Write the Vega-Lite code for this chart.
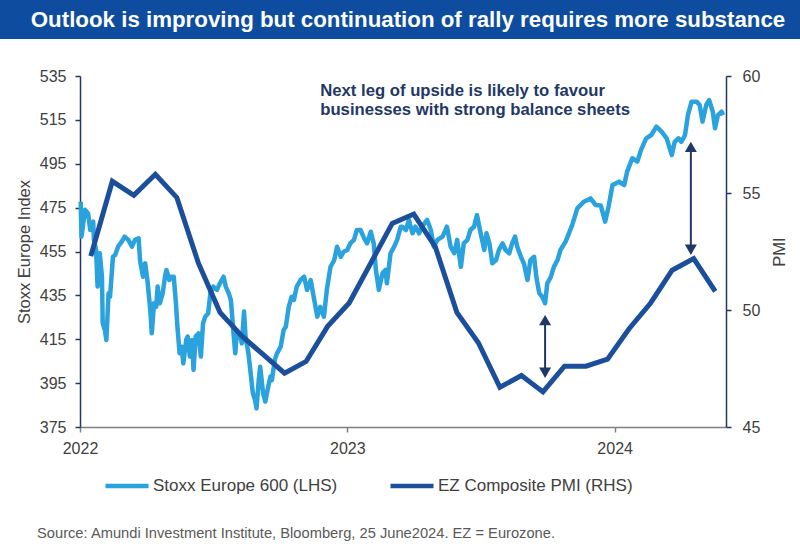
{
  "$schema": "https://vega.github.io/schema/vega-lite/v6.json",
  "padding": 0,
  "background": "white",
  "config": {"font": "Liberation Sans", "view": {"stroke": null}},
  "datasets": {
    "stoxx": [
      {"date": "2022-01-02", "index": 477.7}, {"date": "2022-01-03", "index": 461.8}, {"date": "2022-01-08", "index": 474}, {"date": "2022-01-12", "index": 472.4},
      {"date": "2022-01-15", "index": 464.8}, {"date": "2022-01-19", "index": 468.6}, {"date": "2022-01-20", "index": 460.3}, {"date": "2022-01-23", "index": 455.7},
      {"date": "2022-01-25", "index": 439}, {"date": "2022-01-28", "index": 454.2}, {"date": "2022-01-31", "index": 443.5}, {"date": "2022-02-01", "index": 422.3},
      {"date": "2022-02-04", "index": 419.2}, {"date": "2022-02-06", "index": 414.7}, {"date": "2022-02-09", "index": 436}, {"date": "2022-02-11", "index": 434.4},
      {"date": "2022-02-15", "index": 452.6}, {"date": "2022-02-18", "index": 453.4}, {"date": "2022-02-22", "index": 457.2}, {"date": "2022-02-27", "index": 459.5},
      {"date": "2022-03-03", "index": 461.8}, {"date": "2022-03-08", "index": 460.3}, {"date": "2022-03-13", "index": 457.2}, {"date": "2022-03-17", "index": 460.3},
      {"date": "2022-03-22", "index": 461}, {"date": "2022-03-24", "index": 451}, {"date": "2022-03-28", "index": 443.5}, {"date": "2022-03-31", "index": 449.6},
      {"date": "2022-04-03", "index": 442}, {"date": "2022-04-07", "index": 428.3}, {"date": "2022-04-09", "index": 417.7}, {"date": "2022-04-12", "index": 431.4},
      {"date": "2022-04-15", "index": 429.8}, {"date": "2022-04-17", "index": 439}, {"date": "2022-04-20", "index": 431.4}, {"date": "2022-04-24", "index": 436},
      {"date": "2022-04-27", "index": 443.5}, {"date": "2022-04-29", "index": 446.6}, {"date": "2022-05-03", "index": 442}, {"date": "2022-05-05", "index": 443.5},
      {"date": "2022-05-09", "index": 443.5}, {"date": "2022-05-12", "index": 431.4}, {"date": "2022-05-14", "index": 420.7}, {"date": "2022-05-17", "index": 408.6},
      {"date": "2022-05-20", "index": 411.6}, {"date": "2022-05-22", "index": 404}, {"date": "2022-05-26", "index": 414.7}, {"date": "2022-05-28", "index": 416.2},
      {"date": "2022-05-31", "index": 407.1}, {"date": "2022-06-03", "index": 414.7}, {"date": "2022-06-05", "index": 401}, {"date": "2022-06-08", "index": 416.2},
      {"date": "2022-06-12", "index": 417.7}, {"date": "2022-06-15", "index": 407.1}, {"date": "2022-06-18", "index": 422.3}, {"date": "2022-06-21", "index": 425.3},
      {"date": "2022-06-25", "index": 426.8}, {"date": "2022-06-28", "index": 436}, {"date": "2022-07-02", "index": 439}, {"date": "2022-07-07", "index": 437.5},
      {"date": "2022-07-11", "index": 440.5}, {"date": "2022-07-16", "index": 443.5}, {"date": "2022-07-19", "index": 439}, {"date": "2022-07-23", "index": 436},
      {"date": "2022-07-26", "index": 432.9}, {"date": "2022-07-30", "index": 416.2}, {"date": "2022-08-01", "index": 408.6}, {"date": "2022-08-03", "index": 417.7},
      {"date": "2022-08-08", "index": 416.2}, {"date": "2022-08-10", "index": 413.1}, {"date": "2022-08-13", "index": 427.6}, {"date": "2022-08-15", "index": 416.2},
      {"date": "2022-08-19", "index": 408.6}, {"date": "2022-08-22", "index": 399.5}, {"date": "2022-08-25", "index": 390.4}, {"date": "2022-08-28", "index": 387.3},
      {"date": "2022-08-30", "index": 383.5}, {"date": "2022-09-02", "index": 396.4}, {"date": "2022-09-04", "index": 402.5}, {"date": "2022-09-08", "index": 390.4},
      {"date": "2022-09-11", "index": 386.6}, {"date": "2022-09-15", "index": 393.4}, {"date": "2022-09-18", "index": 398}, {"date": "2022-09-20", "index": 396.4},
      {"date": "2022-09-24", "index": 405.6}, {"date": "2022-09-27", "index": 408.6}, {"date": "2022-10-02", "index": 411.6}, {"date": "2022-10-06", "index": 419.2},
      {"date": "2022-10-09", "index": 420.7}, {"date": "2022-10-13", "index": 429.8}, {"date": "2022-10-17", "index": 434.4}, {"date": "2022-10-20", "index": 432.9},
      {"date": "2022-10-24", "index": 439}, {"date": "2022-10-29", "index": 442}, {"date": "2022-11-03", "index": 443.5}, {"date": "2022-11-07", "index": 437.5},
      {"date": "2022-11-12", "index": 442}, {"date": "2022-11-16", "index": 434.4}, {"date": "2022-11-21", "index": 425.3}, {"date": "2022-11-25", "index": 429.8},
      {"date": "2022-11-30", "index": 425.3}, {"date": "2022-12-04", "index": 437.5}, {"date": "2022-12-09", "index": 448}, {"date": "2022-12-14", "index": 451},
      {"date": "2022-12-18", "index": 457.2}, {"date": "2022-12-23", "index": 452.6}, {"date": "2022-12-27", "index": 454.9}, {"date": "2023-01-01", "index": 455.7},
      {"date": "2023-01-05", "index": 458.7}, {"date": "2023-01-10", "index": 460.3}, {"date": "2023-01-14", "index": 464.8}, {"date": "2023-01-19", "index": 464.8},
      {"date": "2023-01-24", "index": 461}, {"date": "2023-01-28", "index": 458.7}, {"date": "2023-02-02", "index": 464}, {"date": "2023-02-06", "index": 458.7},
      {"date": "2023-02-09", "index": 446.6}, {"date": "2023-02-13", "index": 437.5}, {"date": "2023-02-18", "index": 445.1}, {"date": "2023-02-22", "index": 446.6},
      {"date": "2023-02-24", "index": 440.5}, {"date": "2023-03-01", "index": 454.2}, {"date": "2023-03-06", "index": 457.2}, {"date": "2023-03-10", "index": 460.3},
      {"date": "2023-03-15", "index": 466.3}, {"date": "2023-03-17", "index": 466.3}, {"date": "2023-03-22", "index": 464.8}, {"date": "2023-03-26", "index": 469.4},
      {"date": "2023-03-31", "index": 463.3}, {"date": "2023-04-04", "index": 466.3}, {"date": "2023-04-09", "index": 463.3}, {"date": "2023-04-13", "index": 466.3},
      {"date": "2023-04-20", "index": 469.4}, {"date": "2023-04-25", "index": 464.8}, {"date": "2023-04-29", "index": 457.2}, {"date": "2023-05-04", "index": 460.3},
      {"date": "2023-05-11", "index": 461.8}, {"date": "2023-05-17", "index": 466.3}, {"date": "2023-05-22", "index": 457.2}, {"date": "2023-05-27", "index": 454.2},
      {"date": "2023-05-31", "index": 460.3}, {"date": "2023-06-05", "index": 448}, {"date": "2023-06-09", "index": 458.7}, {"date": "2023-06-14", "index": 460.3},
      {"date": "2023-06-18", "index": 464.8}, {"date": "2023-06-23", "index": 466.3}, {"date": "2023-06-27", "index": 471.6}, {"date": "2023-07-02", "index": 463.3},
      {"date": "2023-07-07", "index": 455.7}, {"date": "2023-07-10", "index": 463.3}, {"date": "2023-07-14", "index": 458.7}, {"date": "2023-07-18", "index": 449.6},
      {"date": "2023-07-23", "index": 451.1}, {"date": "2023-07-27", "index": 455.7}, {"date": "2023-08-01", "index": 458.7}, {"date": "2023-08-05", "index": 455.7},
      {"date": "2023-08-10", "index": 454.2}, {"date": "2023-08-14", "index": 458.7}, {"date": "2023-08-18", "index": 461.8}, {"date": "2023-08-21", "index": 457.2},
      {"date": "2023-08-26", "index": 452.6}, {"date": "2023-08-30", "index": 449.6}, {"date": "2023-09-04", "index": 442}, {"date": "2023-09-08", "index": 451.1},
      {"date": "2023-09-13", "index": 452.6}, {"date": "2023-09-16", "index": 443.5}, {"date": "2023-09-20", "index": 436}, {"date": "2023-09-24", "index": 434.4},
      {"date": "2023-09-28", "index": 431.4}, {"date": "2023-10-01", "index": 440.5}, {"date": "2023-10-06", "index": 443.5}, {"date": "2023-10-10", "index": 448},
      {"date": "2023-10-15", "index": 451.1}, {"date": "2023-10-19", "index": 455.7}, {"date": "2023-10-26", "index": 459.5}, {"date": "2023-11-04", "index": 467},
      {"date": "2023-11-11", "index": 474.7}, {"date": "2023-11-20", "index": 477.7}, {"date": "2023-11-29", "index": 479.2}, {"date": "2023-12-06", "index": 476.2},
      {"date": "2023-12-13", "index": 476}, {"date": "2023-12-19", "index": 468.6}, {"date": "2023-12-24", "index": 476}, {"date": "2023-12-29", "index": 485.3},
      {"date": "2024-01-07", "index": 486.8}, {"date": "2024-01-14", "index": 485.3}, {"date": "2024-01-18", "index": 491.4}, {"date": "2024-01-25", "index": 497.5},
      {"date": "2024-02-01", "index": 496}, {"date": "2024-02-06", "index": 501.3}, {"date": "2024-02-13", "index": 506.6}, {"date": "2024-02-20", "index": 508.1},
      {"date": "2024-02-27", "index": 511.9}, {"date": "2024-03-05", "index": 509.6}, {"date": "2024-03-12", "index": 506.6}, {"date": "2024-03-19", "index": 499},
      {"date": "2024-03-23", "index": 505}, {"date": "2024-03-28", "index": 506.6}, {"date": "2024-04-01", "index": 505}, {"date": "2024-04-06", "index": 508},
      {"date": "2024-04-10", "index": 517.2}, {"date": "2024-04-15", "index": 523.3}, {"date": "2024-04-22", "index": 523.3}, {"date": "2024-04-26", "index": 521.8},
      {"date": "2024-04-30", "index": 514.2}, {"date": "2024-05-05", "index": 521.8}, {"date": "2024-05-09", "index": 524}, {"date": "2024-05-14", "index": 518.7},
      {"date": "2024-05-17", "index": 511.2}, {"date": "2024-05-21", "index": 517.2}, {"date": "2024-05-26", "index": 518.7}, {"date": "2024-05-28", "index": 517.2}
    ],
    "pmi": [
      {"month": "2022-01", "pmi": 52.3}, {"month": "2022-02", "pmi": 55.5}, {"month": "2022-03", "pmi": 54.9}, {"month": "2022-04", "pmi": 55.8},
      {"month": "2022-05", "pmi": 54.8}, {"month": "2022-06", "pmi": 52.0}, {"month": "2022-07", "pmi": 49.9}, {"month": "2022-08", "pmi": 48.9},
      {"month": "2022-09", "pmi": 48.1}, {"month": "2022-10", "pmi": 47.3}, {"month": "2022-11", "pmi": 47.8}, {"month": "2022-12", "pmi": 49.3},
      {"month": "2023-01", "pmi": 50.3}, {"month": "2023-02", "pmi": 52.0}, {"month": "2023-03", "pmi": 53.7}, {"month": "2023-04", "pmi": 54.1},
      {"month": "2023-05", "pmi": 52.7}, {"month": "2023-06", "pmi": 49.9}, {"month": "2023-07", "pmi": 48.6}, {"month": "2023-08", "pmi": 46.7},
      {"month": "2023-09", "pmi": 47.2}, {"month": "2023-10", "pmi": 46.5}, {"month": "2023-11", "pmi": 47.6}, {"month": "2023-12", "pmi": 47.6},
      {"month": "2024-01", "pmi": 47.9}, {"month": "2024-02", "pmi": 49.2}, {"month": "2024-03", "pmi": 50.3}, {"month": "2024-04", "pmi": 51.7},
      {"month": "2024-05", "pmi": 52.2}, {"month": "2024-06", "pmi": 50.8}
    ],
    "arrows": [
      {"date": "2023-09-28", "top": 423.7, "bottom": 399.7},
      {"date": "2024-04-14", "top": 502.7, "bottom": 455.8}
    ],
    "notes": [
      {"date": "2022-11-25", "y": 525.9, "text": "Next leg of upside is likely to favour"},
      {"date": "2022-11-25", "y": 517.2, "text": "businesses with strong balance sheets"}
    ]
  },
  "vconcat": [
    {
      "width": 800,
      "height": 39,
      "view": {"fill": "#0d4c9f", "stroke": null},
      "data": {"values": [{"t": "Outlook is improving but continuation of rally requires more substance"}]},
      "mark": {"type": "text", "color": "white", "fontSize": 22.3, "fontWeight": "bold", "align": "center", "baseline": "middle", "dx": 8},
      "encoding": {"text": {"field": "t", "type": "nominal"}}
    },
    {
      "hconcat": [
        {
          "width": 1,
          "height": 1,
          "data": {"values": []},
          "mark": {"type": "point", "opacity": 0},
          "encoding": {}
        },
        {
          "width": 646,
          "height": 351,
          "layer": [
            {
              "layer": [
                {
                  "data": {"name": "stoxx"},
                  "mark": {"type": "line", "strokeWidth": 4.5, "strokeJoin": "round"},
                  "encoding": {
                    "x": {"field": "date", "type": "temporal",
                          "scale": {"type": "utc", "domain": [{"year": 2022, "month": 1, "date": 1, "utc": true}, {"year": 2024, "month": 6, "date": 1, "utc": true}]},
                          "axis": {"title": null, "format": "%Y", "labelFlush": false, "grid": false,
                                   "values": [{"year": 2022, "month": 1, "date": 1, "utc": true}, {"year": 2023, "month": 1, "date": 1, "utc": true}, {"year": 2024, "month": 1, "date": 1, "utc": true}],
                                   "domainColor": "#808080", "domainWidth": 1.5, "tickColor": "#808080", "tickSize": 5, "tickWidth": 1.5,
                                   "labelFontSize": 16, "labelColor": "#404040", "labelPadding": 8}},
                    "y": {"field": "index", "type": "quantitative",
                          "scale": {"domain": [375, 535], "nice": false, "zero": false},
                          "axis": {"title": "Stoxx Europe Index", "values": [375, 395, 415, 435, 455, 475, 495, 515, 535], "grid": false,
                                   "domainColor": "#1f3864", "domainWidth": 1.5, "tickColor": "#1f3864", "tickSize": 5, "tickWidth": 1.5,
                                   "labelFontSize": 16, "labelColor": "#404040", "labelPadding": 9,
                                   "titleFontSize": 16.5, "titleFontWeight": "normal", "titleColor": "#404040", "titlePadding": 7}},
                    "color": {"datum": "Stoxx Europe 600 (LHS)", "type": "nominal",
                              "scale": {"domain": ["Stoxx Europe 600 (LHS)", "EZ Composite PMI (RHS)"], "range": ["#2aa2dd", "#1b4f9c"]},
                              "legend": {"orient": "none", "legendX": 103, "legendY": 462, "direction": "horizontal", "title": null,
                                         "symbolType": "stroke", "symbolSize": 1849, "symbolStrokeWidth": 4.5, "labelLimit": 400,
                                         "labelFontSize": 17, "labelColor": "#404040", "labelOffset": 2, "columnPadding": 43}}
                  }
                },
                {
                  "data": {"name": "arrows"},
                  "mark": {"type": "rule", "color": "#1f3864", "strokeWidth": 2},
                  "encoding": {
                    "x": {"field": "date", "type": "temporal"},
                    "y": {"field": "top", "type": "quantitative"},
                    "y2": {"field": "bottom"}
                  }
                },
                {
                  "data": {"name": "arrows"},
                  "mark": {"type": "point", "shape": "triangle-up", "filled": true, "size": 144, "color": "#1f3864", "opacity": 1},
                  "encoding": {
                    "x": {"field": "date", "type": "temporal"},
                    "y": {"field": "top", "type": "quantitative"}
                  }
                },
                {
                  "data": {"name": "arrows"},
                  "mark": {"type": "point", "shape": "triangle-down", "filled": true, "size": 144, "color": "#1f3864", "opacity": 1},
                  "encoding": {
                    "x": {"field": "date", "type": "temporal"},
                    "y": {"field": "bottom", "type": "quantitative"}
                  }
                },
                {
                  "data": {"name": "notes"},
                  "mark": {"type": "text", "align": "left", "baseline": "alphabetic", "fontSize": 16.7, "fontWeight": "bold", "color": "#1f3864"},
                  "encoding": {
                    "x": {"field": "date", "type": "temporal"},
                    "y": {"field": "y", "type": "quantitative"},
                    "text": {"field": "text", "type": "nominal"}
                  }
                }
              ]
            },
            {
              "data": {"name": "pmi"},
              "mark": {"type": "line", "strokeWidth": 5, "strokeJoin": "miter"},
              "encoding": {
                "x": {"field": "month", "type": "ordinal", "scale": {"type": "point", "padding": 0.5}, "axis": null},
                "y": {"field": "pmi", "type": "quantitative",
                      "scale": {"domain": [45, 60], "nice": false, "zero": false},
                      "axis": {"orient": "right", "title": "PMI", "values": [45, 50, 55, 60], "grid": false,
                               "domainColor": "#1f3864", "domainWidth": 1.5, "tickColor": "#1f3864", "tickSize": 5, "tickWidth": 1.5,
                               "labelFontSize": 16, "labelColor": "#404040", "labelPadding": 11,
                               "titleFontSize": 16.5, "titleFontWeight": "normal", "titleColor": "#404040", "titleAngle": 270, "titlePadding": 28}},
                "color": {"datum": "EZ Composite PMI (RHS)", "type": "nominal"}
              }
            }
          ],
          "resolve": {"scale": {"x": "independent", "y": "independent"}}
        }
      ],
      "spacing": 15
    }
  ],
  "spacing": 29,
  "title": {"text": "Source: Amundi Investment Institute, Bloomberg, 25 June2024. EZ = Eurozone.", "orient": "bottom", "anchor": "start",
            "fontSize": 14.7, "fontWeight": "normal", "color": "#595959", "dx": 37, "offset": 31}
}
